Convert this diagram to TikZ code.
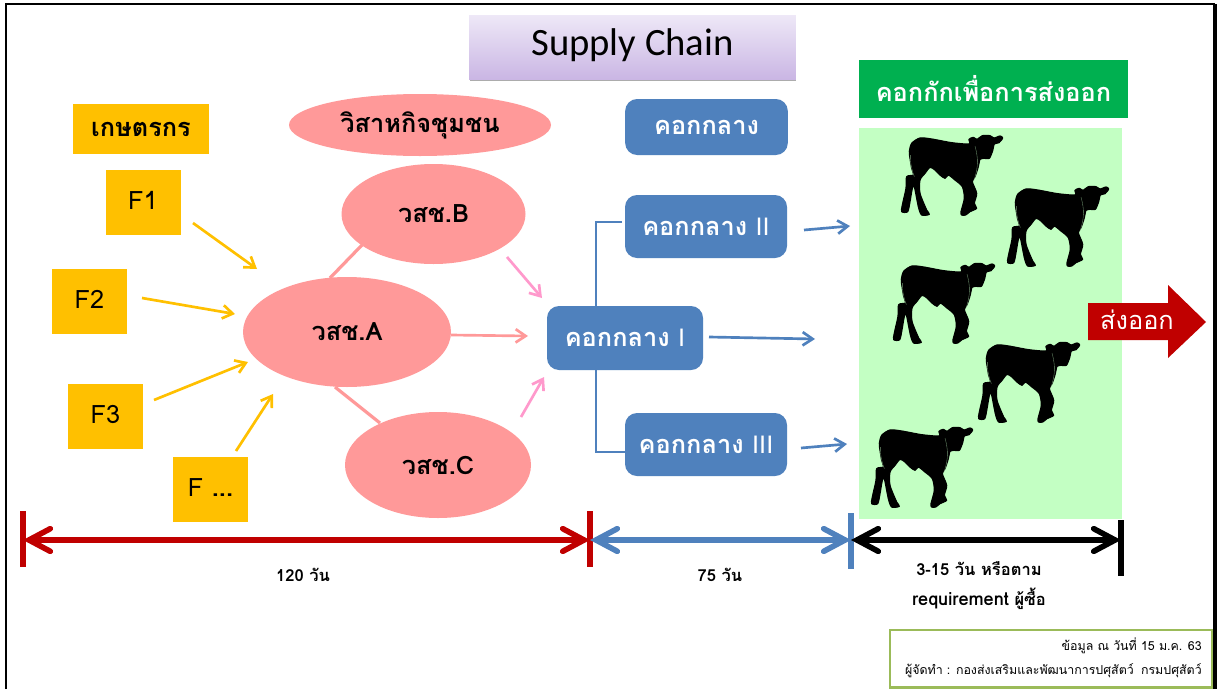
\documentclass[tikz,border=0pt]{standalone}
\usepackage{fontspec}
\setmainfont{Carlito}
\newfontfamily\thfont[Script=Thai]{Loma}
\newfontfamily\latfont{Liberation Sans}
\usetikzlibrary{arrows.meta,shadows,shapes.geometric}
\definecolor{gold}{HTML}{FFC000}
\definecolor{salmon}{HTML}{FF9999}
\definecolor{steel}{HTML}{4F81BD}
\definecolor{dred}{HTML}{C00000}
\definecolor{pane}{HTML}{C3FFC3}
\definecolor{hdrgreen}{HTML}{00B050}
\definecolor{olive}{HTML}{9BBB59}
\definecolor{rose}{HTML}{FF99CC}
\definecolor{lilactop}{HTML}{EEE8F7}
\definecolor{lilacbot}{HTML}{CAB6E4}
\tikzset{
  x=0.75pt,y=-0.75pt,
  farmer/.style={fill=gold,minimum width=56.25pt,minimum height=48.75pt,inner sep=0pt,text depth=3pt,font=\thfont\fontsize{19}{21}\selectfont},
  coop/.style={ellipse,fill=salmon,inner sep=0pt,font=\thfont\bfseries\fontsize{19}{21}\selectfont},
  broker/.style={rounded corners=9pt,fill=steel,text=white,inner sep=0pt,font=\thfont\bfseries\fontsize{19}{21}\selectfont},
  header/.style={inner sep=0pt,font=\thfont\bfseries\fontsize{19}{21}\selectfont},
  thinarrow/.style={-{Straight Barb[length=7.5pt,width=10pt]},line width=2pt},
  spanarrow/.style={{Straight Barb[length=16pt,width=17pt,line cap=round]}-{Straight Barb[length=16pt,width=17pt,line cap=round]},line width=4.2pt},
  tickbar/.style={line width=4.2pt},
  note/.style={inner sep=0pt,font=\thfont\bfseries\fontsize{12.4}{14}\selectfont},
  credittext/.style={inner sep=0pt,anchor=east,font=\thfont\fontsize{9.3}{12}\selectfont},
}
\newcommand{\calf}[2]{%
  \begin{scope}[shift={(#1-7,#2-5)},scale=1/3]
  \filldraw[black,line width=.9pt,line join=round] plot[smooth cycle,tension=.45] coordinates {
    (50,40) (75,24) (110,27) (170,38) (222,42) (222,28) (235,22) (246,28)
    (262,17) (285,17) (297,24) (315,18) (323,24) (312,38) (298,42) (293,62) (283,85) (268,85)
    (255,88) (250,110) (240,140) (232,155) (245,190) (238,220) (245,235) (225,245) (212,255)
    (200,255) (198,245) (208,205) (202,170) (180,150) (160,135) (150,145) (135,135) (120,120)
    (105,112) (90,130) (75,150) (75,190) (95,240) (103,253) (80,255) (70,230) (58,170)
    (52,175) (45,215) (38,245) (20,245) (22,225) (33,175) (35,140) (55,135) (50,115) (45,85) (43,65)};
  \draw[pane!60!black,line width=.25pt] (240,48) .. controls (250,85) and (250,110) .. (238,148);
  \draw[pane!60!black,line width=.25pt] (46,75) .. controls (45,100) and (52,125) .. (58,140);
  \end{scope}}
\begin{document}
\begin{tikzpicture}
\useasboundingbox (0,0) rectangle (1217,689);
\fill[white] (0,0) rectangle (1217,689);
\draw[black,line width=1.9pt] (6,689) -- (6,4) -- (1215,4);
\draw[black,line width=2.5pt] (1215,4) -- (1215,689);

% title
\node[drop shadow={shadow xshift=0.4pt,shadow yshift=-1.8pt,opacity=.65},top color=lilactop,bottom color=lilacbot,minimum width=245pt,minimum height=48pt,inner sep=0pt,text depth=8pt,font=\fontsize{29}{31}\selectfont] (title) at (632.5,47) {Supply Chain};

% headers
\node[header,fill=gold,minimum width=102pt,minimum height=37.5pt] (hfarm) at (141,129) {เกษตรกร};
\node[header,ellipse,fill=salmon,minimum width=196.5pt,minimum height=46.5pt] (hcoop) at (420,125) {วิสาหกิจชุมชน};
\node[header,rounded corners=9pt,fill=steel,text=white,minimum width=122pt,minimum height=42pt] (hbrok) at (706.5,127) {คอกกลาง};
\node[header,fill=hdrgreen,text=white,minimum width=202pt,minimum height=43.5pt] (hfeed) at (993.5,89) {คอกกักเพื่อการส่งออก};

% farmers
\node[farmer] (f1) at (143,202.5) {F1};
\node[farmer] (f2) at (89.5,301.5) {F2};
\node[farmer] (f3) at (105.5,416.5) {F3};
\node[farmer] (f4) at (210.5,489.5) {F \textbf{...}};

% coops
\node[coop,minimum width=138pt,minimum height=75pt] (cb) at (433.5,214) {วสช.B};
\node[coop,minimum width=156pt,minimum height=82.5pt] (ca) at (347,332) {วสช.A};
\node[coop,minimum width=139.5pt,minimum height=79.5pt] (cc) at (438,465) {วสช.C};

% brokers
\node[broker,minimum width=117pt,minimum height=48pt] (b1) at (625,338) {คอกกลาง {\latfont\mdseries I}};
\node[broker,minimum width=121.5pt,minimum height=47.25pt] (b2) at (706,226.5) {คอกกลาง {\latfont\mdseries II}};
\node[broker,minimum width=121.5pt,minimum height=47.25pt] (b3) at (706,444.5) {คอกกลาง {\latfont\mdseries III}};

% feedlot pane
\fill[pane] (859,128) rectangle (1122,519);
\calf{902}{135}
\calf{1008}{186}
\calf{894}{263}
\calf{979}{342}
\calf{872}{427}

% export arrow
\fill[dred] (1088,303) -- (1168,303) -- (1168,285) -- (1206,322) -- (1168,358) -- (1168,340) -- (1088,340) -- cycle;
\node[inner sep=0pt,text=white,font=\thfont\fontsize{19}{21}\selectfont] (export) at (1137,320) {ส่งออก};

% free connector ends
\coordinate (o1s) at (193,223); \coordinate (o1e) at (257,269);
\coordinate (o2s) at (142,298); \coordinate (o2e) at (235,314);
\coordinate (o3s) at (154,400); \coordinate (o3e) at (248,362);
\coordinate (o4s) at (236,451); \coordinate (o4e) at (273,394);
\coordinate (p1s) at (507,257); \coordinate (p1e) at (542,298);
\coordinate (p2s) at (451,335); \coordinate (p2e) at (528,336);
\coordinate (p3s) at (521,417); \coordinate (p3e) at (544,377);
\coordinate (q1s) at (804,230); \coordinate (q1e) at (850,226);
\coordinate (q2s) at (709,337); \coordinate (q2e) at (815,339);
\coordinate (q3s) at (801,448); \coordinate (q3e) at (847,444);
\coordinate (l1s) at (330,278); \coordinate (l1e) at (362,245);
\coordinate (l2s) at (335,387); \coordinate (l2e) at (380,423);
\coordinate (bus1) at (596,306);
\coordinate (bus2) at (622,222);
\coordinate (bus3) at (596,370);
\coordinate (bus4) at (625,452);

% connectors
\draw[gold,thinarrow] (o1s) -- (o1e);
\draw[gold,thinarrow] (o2s) -- (o2e);
\draw[gold,thinarrow] (o3s) -- (o3e);
\draw[gold,thinarrow] (o4s) -- (o4e);
\draw[rose,thinarrow] (p1s) -- (p1e);
\draw[salmon,thinarrow] (p2s) -- (p2e);
\draw[rose,thinarrow] (p3s) -- (p3e);
\draw[steel,thinarrow] (q1s) -- (q1e);
\draw[steel,thinarrow] (q2s) -- (q2e);
\draw[steel,thinarrow] (q3s) -- (q3e);
\draw[salmon,line width=2.4pt] (l1s) -- (l1e);
\draw[salmon,line width=2.4pt] (l2s) -- (l2e);
\draw[steel,line width=2pt] (bus2) -| (bus1);
\draw[steel,line width=2pt] (bus4) -| (bus3);

% timeline
\coordinate (t0) at (23,540); \coordinate (t1) at (590,540); \coordinate (t2) at (851,540); \coordinate (t3) at (1121,540);
\draw[dred,tickbar] (23,511) -- (23,567);
\draw[dred,tickbar] (590,511) -- (590,567);
\draw[steel,tickbar] (851,513) -- (851,569);
\draw[black,tickbar] (1121,520) -- (1121,576);
\draw[dred,spanarrow] (t0) -- (t1);
\draw[steel,spanarrow] (t1) -- (t2);
\draw[black,spanarrow] (t2) -- (t3);

\node[note] (d1) at (303,575) {120 วัน};
\node[note] (d2) at (720,575) {75 วัน};
\node[note] (d3) at (979,569) {3-15 วัน หรือตาม};
\node[note] (d4) at (979,599) {{\fontsize{13.6}{14}\selectfont requirement} ผู้ซื้อ};

% credit box
\node[draw=olive,line width=2pt,fill=white,minimum width=241.5pt,minimum height=43pt,inner sep=0pt] (credit) at (1051,658.5) {};
\node[credittext] (cr1) at (1202,646) {ข้อมูล ณ วันที่ 15 ม.ค. 63};
\node[credittext] (cr2) at (1202,671) {ผู้จัดทำ : กองส่งเสริมและพัฒนาการปศุสัตว์\hspace{.25em} กรมปศุสัตว์};
\end{tikzpicture}
\end{document}
